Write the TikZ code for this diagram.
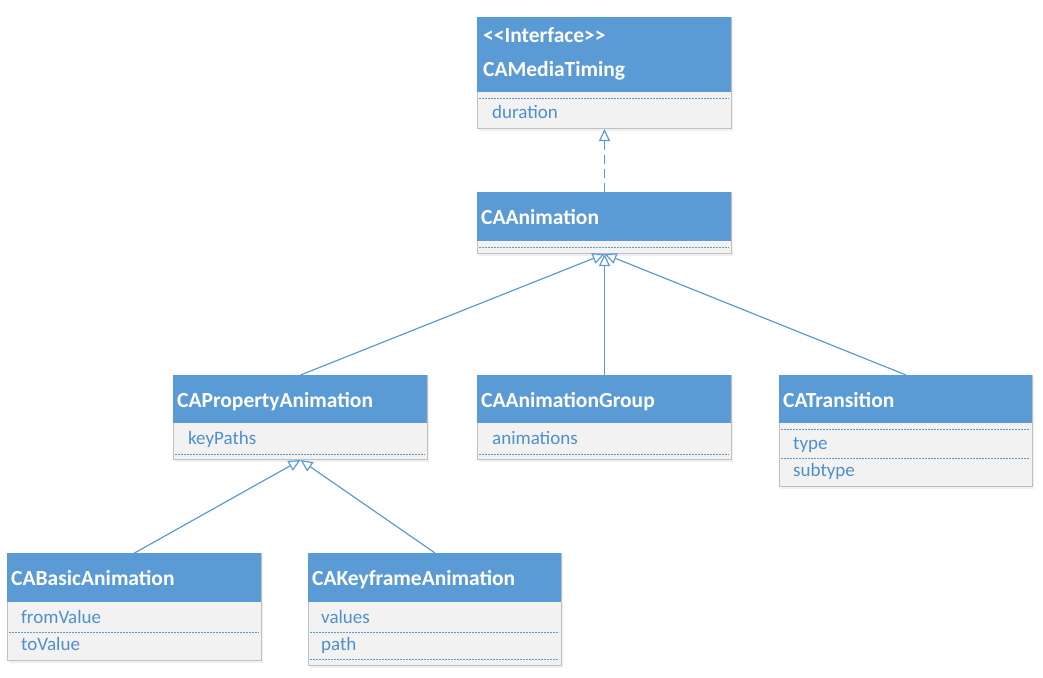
\documentclass[tikz,border=0pt]{standalone}
\usepackage{fontspec}
\setmainfont{Carlito}
\usetikzlibrary{arrows.meta,shadows}
\definecolor{hblue}{HTML}{5B9BD5}
\definecolor{tblue}{HTML}{4F8FCB}
\definecolor{bodygray}{HTML}{F2F2F2}
\definecolor{boxgray}{HTML}{C0C0C0}
\tikzset{
  classbody/.style={draw=boxgray, fill=bodygray, line width=1pt, inner sep=0pt, anchor=north west,
    drop shadow={opacity=0.12, shadow xshift=1.5pt, shadow yshift=-2pt}},
  classhead/.style={fill=hblue, inner sep=0pt, anchor=north west},
  headtext/.style={text=white, font=\fontsize{21.5}{24}\selectfont\bfseries, anchor=base west, inner sep=0pt},
  attrtext/.style={text=tblue, font=\fontsize{19}{22}\selectfont, anchor=base west, inner sep=0pt},
  sep/.style={draw=hblue, line width=0.8pt, dash pattern=on 2pt off 1pt},
  inherit/.style={draw=hblue, line width=1.2pt, -{Triangle[open, length=12pt, width=11pt, line width=1.2pt]}},
  realize/.style={inherit, dash pattern=on 9pt off 5pt}
}
\begin{document}
\begin{tikzpicture}[x=1pt, y=-1pt]
\useasboundingbox (0,0) rectangle (1043,677);

% CAMediaTiming
\node[classbody, minimum width=254pt, minimum height=111pt] (cmt) at (477,17) {};
\node[classhead, minimum width=254pt, minimum height=75pt] (cmth) at (cmt.north west) {};
\node[headtext] (cmtt1) at (483,43) {<{}<Interface>{}>};
\node[headtext] (cmtt2) at (483,76) {CAMediaTiming};
\coordinate (cmts1) at (479,98);
\coordinate (cmts2) at (729,98);
\draw[sep] (cmts1) -- (cmts2);
\node[attrtext] (cmta1) at (492,118) {duration};

% CAAnimation
\node[classbody, minimum width=254pt, minimum height=61pt] (caa) at (477,192) {};
\node[classhead, minimum width=254pt, minimum height=49pt] (caah) at (caa.north west) {};
\node[headtext] (caat) at (481,224) {CAAnimation};
\coordinate (caas1) at (479,247);
\coordinate (caas2) at (729,247);
\draw[sep] (caas1) -- (caas2);

% CAPropertyAnimation
\node[classbody, minimum width=254pt, minimum height=84pt] (cpa) at (173,375) {};
\node[classhead, minimum width=254pt, minimum height=48pt] (cpah) at (cpa.north west) {};
\node[headtext] (cpat) at (177,407) {CAPropertyAnimation};
\node[attrtext] (cpaa1) at (188,444) {keyPaths};
\coordinate (cpas1) at (175,454);
\coordinate (cpas2) at (425,454);
\draw[sep] (cpas1) -- (cpas2);

% CAAnimationGroup
\node[classbody, minimum width=254pt, minimum height=84pt] (cag) at (477,375) {};
\node[classhead, minimum width=254pt, minimum height=48pt] (cagh) at (cag.north west) {};
\node[headtext] (cagt) at (481,407) {CAAnimationGroup};
\node[attrtext] (caga1) at (492,444) {animations};
\coordinate (cags1) at (479,454);
\coordinate (cags2) at (729,454);
\draw[sep] (cags1) -- (cags2);

% CATransition
\node[classbody, minimum width=253pt, minimum height=111pt] (cat) at (779,375) {};
\node[classhead, minimum width=253pt, minimum height=48pt] (cath) at (cat.north west) {};
\node[headtext] (catt) at (783,407) {CATransition};
\coordinate (cats1) at (781,429);
\coordinate (cats2) at (1030,429);
\draw[sep] (cats1) -- (cats2);
\node[attrtext] (cata1) at (793,449) {type};
\coordinate (cats3) at (781,458);
\coordinate (cats4) at (1030,458);
\draw[sep] (cats3) -- (cats4);
\node[attrtext] (cata2) at (793,476) {subtype};

% CABasicAnimation
\node[classbody, minimum width=254pt, minimum height=107pt] (cba) at (7,553) {};
\node[classhead, minimum width=254pt, minimum height=49pt] (cbah) at (cba.north west) {};
\node[headtext] (cbat) at (11,585) {CABasicAnimation};
\node[attrtext] (cbaa1) at (21,623) {fromValue};
\coordinate (cbas1) at (9,632);
\coordinate (cbas2) at (259,632);
\draw[sep] (cbas1) -- (cbas2);
\node[attrtext] (cbaa2) at (21,650) {toValue};

% CAKeyframeAnimation
\node[classbody, minimum width=253pt, minimum height=112pt] (cka) at (308,553) {};
\node[classhead, minimum width=253pt, minimum height=49pt] (ckah) at (cka.north west) {};
\node[headtext] (ckat) at (312,585) {CAKeyframeAnimation};
\node[attrtext] (ckaa1) at (321,623) {values};
\coordinate (ckas1) at (310,632);
\coordinate (ckas2) at (559,632);
\draw[sep] (ckas1) -- (ckas2);
\node[attrtext] (ckaa2) at (321,650) {path};
\coordinate (ckas3) at (310,659);
\coordinate (ckas4) at (559,659);
\draw[sep] (ckas3) -- (ckas4);

% connectors
\draw[realize] (caa.north) -- (cmt.south);
\draw[inherit] (cpa.north) -- (caa.south);
\draw[inherit] (cag.north) -- (caa.south);
\draw[inherit] (cat.north) -- (caa.south);
\draw[inherit] (cba.north) -- (cpa.south);
\draw[inherit] (cka.north) -- (cpa.south);
\end{tikzpicture}
\end{document}
